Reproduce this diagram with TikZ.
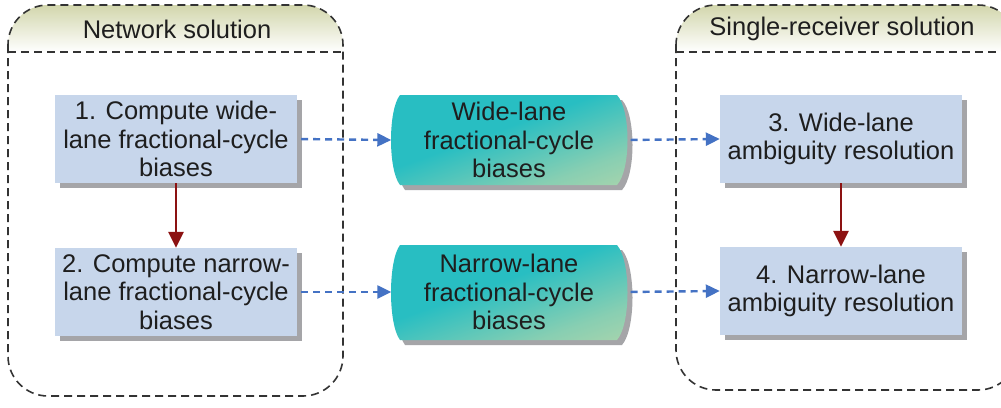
\documentclass[tikz,border=0pt]{standalone}
\usepackage{fontspec}
\setmainfont{Liberation Sans}
\usetikzlibrary{arrows.meta,shadows}
\definecolor{boxfill}{RGB}{199,214,235}
\definecolor{shadowc}{RGB}{165,165,168}
\definecolor{cylA}{RGB}{40,190,194}
\definecolor{cylB}{RGB}{214,220,165}
\definecolor{hdr}{RGB}{210,214,172}
\definecolor{blueA}{RGB}{68,114,196}
\definecolor{redA}{RGB}{140,18,18}
\definecolor{txt}{RGB}{30,30,30}
\pgfdeclareverticalshading{cylshade}{100bp}{color(0bp)=(cylB); color(30bp)=(cylB!55!cylA); color(55bp)=(cylA); color(100bp)=(cylA)}
\begin{document}
\begin{tikzpicture}[x=1pt,y=-1pt,
  font=\fontsize{25.5}{28.5}\selectfont, text=txt,
  procbox/.style={fill=boxfill, minimum width=242pt, minimum height=88pt, align=center, inner sep=0pt,
    general shadow={fill=shadowc, shadow xshift=5pt, shadow yshift=-5pt}},
  cyltext/.style={minimum width=235pt, minimum height=90pt, align=center, inner sep=0pt},
  cylfill/.style={shading=cylshade, shading angle=20},
  container/.style={draw=black!80, line width=1.6pt, dash pattern=on 8pt off 5pt, rounded corners=40pt},
  flowarrow/.style={draw=blueA, line width=2.4pt, dash pattern=on 7pt off 5pt,
    -{Triangle[length=14pt,width=13pt]}, shorten <=4pt},
  steparrow/.style={draw=redA, line width=2.6pt, -{Triangle[length=16pt,width=15pt]}},
  headtext/.style={inner sep=0pt}
]
\clip (0,0) rectangle (1001,407);
\fill[white] (0,0) rectangle (1001,407);

% containers: header gradient
\begin{scope}
  \clip[rounded corners=40pt] (8,5) rectangle (343,396);
  \shade[top color=hdr, bottom color=white] (8,5) rectangle (343,52);
\end{scope}
\begin{scope}
  \clip[rounded corners=40pt] (676,5) rectangle (1018,390);
  \shade[top color=hdr, bottom color=white] (676,5) rectangle (1018,52);
\end{scope}
\draw[container] (8,5) rectangle (343,396);
\draw[container] (676,5) rectangle (1018,390);
\draw[container] (8,52) -- (343,52);
\draw[container] (676,52) -- (1018,52);

\node[headtext] (nethead) at (177,29) {Network solution};
\node[headtext] (srhead) at (842,29) {Single-receiver solution};

% cylinders (data stores)
\fill[shadowc] (405,100) -- (622,100) .. controls (636,115) and (636,175) .. (622,190)
  -- (405,190) .. controls (393,175) and (393,115) .. (405,100) -- cycle;
\shade[cylfill] (400,95) -- (617,95) .. controls (631,110) and (631,170) .. (617,185)
  -- (400,185) .. controls (388,170) and (388,110) .. (400,95) -- cycle;
\fill[shadowc] (405,250) -- (622,250) .. controls (636,266) and (636,329) .. (622,345)
  -- (405,345) .. controls (393,329) and (393,266) .. (405,250) -- cycle;
\shade[cylfill] (400,245) -- (617,245) .. controls (631,261) and (631,324) .. (617,340)
  -- (400,340) .. controls (388,324) and (388,261) .. (400,245) -- cycle;

\node[cyltext] (wl) at (509,140) {Wide-lane\\fractional-cycle\\biases};
\node[cyltext] (nl) at (509,292) {Narrow-lane\\fractional-cycle\\biases};

% process boxes
\node[procbox] (b1) at (176,139) {1. Compute wide-\\lane fractional-cycle\\biases};
\node[procbox] (b2) at (176,292) {2. Compute narrow-\\lane fractional-cycle\\biases};
\node[procbox] (b3) at (841,139) {3. Wide-lane\\ambiguity resolution};
\node[procbox] (b4) at (841,291) {4. Narrow-lane\\ambiguity resolution};

% connectors
\draw[flowarrow] (b1.east) -- (wl.west);
\draw[flowarrow] (b2.east) -- (nl.west);
\draw[flowarrow] (wl.east) -- (b3.west);
\draw[flowarrow] (nl.east) -- (b4.west);
\draw[steparrow] (b1.south) -- (b2.north);
\draw[steparrow] (b3.south) -- (b4.north);
\end{tikzpicture}
\end{document}
